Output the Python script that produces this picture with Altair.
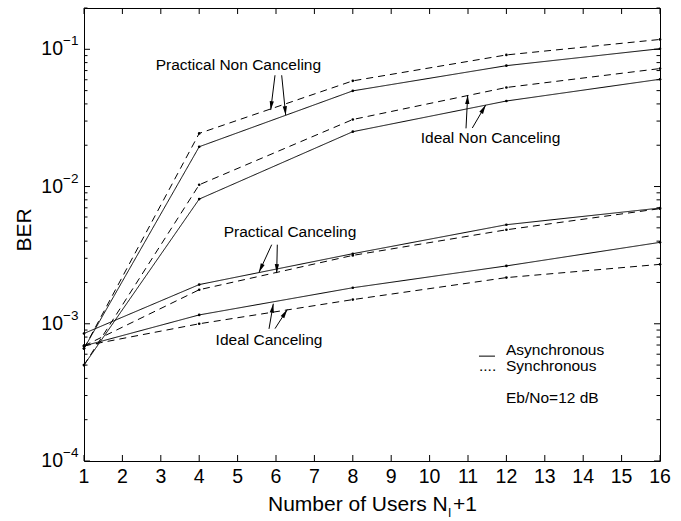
import math
import altair as alt
import pandas as pd

# ---------------- data ----------------
x_users = [1, 4, 8, 12, 16]
pnc_async = [0.00066, 0.0195, 0.0498, 0.076, 0.101]
pnc_sync = [0.00066, 0.0244, 0.0589, 0.091, 0.118]
inc_async = [0.0005, 0.0081, 0.0251, 0.042, 0.0605]
inc_sync = [0.0005, 0.0103, 0.0308, 0.0527, 0.0724]
pc_async = [0.00085, 0.00193, 0.00324, 0.00527, 0.00697]
pc_sync = [0.00069, 0.00177, 0.00315, 0.00484, 0.0069]
ic_async = [0.00069, 0.00116, 0.00183, 0.00264, 0.00392]
ic_sync = [0.00069, 0.0010, 0.0015, 0.00217, 0.00271]

x_ticks = list(range(1, 17))
x_tick_labels = [str(v) for v in x_ticks]
y_major = [1e-4, 1e-3, 1e-2, 1e-1]
y_major_exp = ["\u22124", "\u22123", "\u22122", "\u22121"]
y_minor = [k * 10.0 ** e for e in range(-4, 0) for k in range(2, 10) if k * 10.0 ** e <= 0.2]

ann_text = ["Practical Non Canceling", "Ideal Non Canceling", "Practical Canceling", "Ideal Canceling"]
ann_x = [5.02, 11.586, 6.365, 5.818]
ann_y = [0.0765, 0.02254, 0.0047, 0.000767]

arrow_x0 = [5.974, 6.148, 10.948, 11.112, 5.888, 6.034, 5.818, 5.974]
arrow_y0 = [0.0647, 0.0647, 0.02655, 0.0267, 0.00377, 0.00377, 0.000918, 0.000922]
arrow_x1 = [5.862, 6.253, 10.992, 11.461, 5.557, 6.018, 5.930, 6.294]
arrow_y1 = [0.0361, 0.0331, 0.0464, 0.0392, 0.00237, 0.00234, 0.0014, 0.00127]

legend_labels = ["Asynchronous", "Synchronous"]
legend_x = 11.99
legend_y = [0.000641, 0.000491]
legend_sample_x = [11.286, 11.703]
legend_sample_y = 0.000581
note_text = "Eb/No=12 dB"
note_y = 0.000286

# ---------------- layout ----------------
W, H = 576, 453
FONT = "Liberation Sans"
X_DOM = [1, 16]
Y_DOM = [1e-4, 0.2]
xs = alt.Scale(domain=X_DOM, nice=False, zero=False)
ys = alt.Scale(type="log", domain=Y_DOM, nice=False)

rows = []
curves = [
    ("pnc", "Asynchronous", pnc_async), ("pnc", "Synchronous", pnc_sync),
    ("inc", "Asynchronous", inc_async), ("inc", "Synchronous", inc_sync),
    ("pc", "Asynchronous", pc_async), ("pc", "Synchronous", pc_sync),
    ("ic", "Asynchronous", ic_async), ("ic", "Synchronous", ic_sync),
]
for name, mode, vals in curves:
    for xv, yv in zip(x_users, vals):
        rows.append({"x": xv, "ber": yv, "curve": name + "_" + mode, "mode": mode})
df = pd.DataFrame(rows)


def XX(field="x:Q"):
    return alt.X(field, scale=xs, axis=None)


def YY(field="ber:Q"):
    return alt.Y(field, scale=ys, axis=None)


lines = alt.Chart(df).mark_line(color="black", strokeWidth=1).encode(
    x=XX(), y=YY(), detail="curve:N",
    strokeDash=alt.StrokeDash("mode:N", scale=alt.Scale(domain=["Asynchronous", "Synchronous"],
                                                          range=[[1, 0], [7, 5]]), legend=None),
)
pts = alt.Chart(df).mark_circle(color="black", size=7, opacity=1).encode(x=XX(), y=YY())

# ticks
xt = pd.DataFrame({"x": x_ticks, "lab": x_tick_labels})
ymaj = pd.DataFrame({"ber": y_major, "e": y_major_exp})
ymin = pd.DataFrame({"ber": y_minor})
tk = dict(color="black", strokeWidth=1)
xtick_b = alt.Chart(xt).mark_rule(**tk).encode(x=XX(), y=alt.value(H), y2=alt.value(H - 6))
xtick_t = alt.Chart(xt).mark_rule(**tk).encode(x=XX(), y=alt.value(0), y2=alt.value(6))
ytick_l = alt.Chart(ymaj).mark_rule(**tk).encode(y=YY(), x=alt.value(0), x2=alt.value(6))
ytick_r = alt.Chart(ymaj).mark_rule(**tk).encode(y=YY(), x=alt.value(W), x2=alt.value(W - 6))
ymin_l = alt.Chart(ymin).mark_rule(**tk).encode(y=YY(), x=alt.value(0), x2=alt.value(3.5))
ymin_r = alt.Chart(ymin).mark_rule(**tk).encode(y=YY(), x=alt.value(W), x2=alt.value(W - 3.5))

xlab = alt.Chart(xt).mark_text(font=FONT, fontSize=19.5, align="center", baseline="middle", color="black").encode(
    x=XX(), y=alt.value(H + 16), text="lab:N")
ylab = alt.Chart(ymaj).mark_text(font=FONT, fontSize=19.5, align="right", baseline="middle", color="black").encode(
    y=YY(), x=alt.value(-21), text=alt.value("10"))
yexp = alt.Chart(ymaj).mark_text(font=FONT, fontSize=13.5, align="left", baseline="middle", color="black", dy=-8).encode(
    y=YY(), x=alt.value(-21), text="e:N")

ber_title = alt.Chart(pd.DataFrame({"t": ["BER"]})).mark_text(
    font=FONT, fontSize=21, angle=270, align="center", baseline="middle", color="black").encode(
    x=alt.value(-59), y=alt.value(222), text="t:N")

xt1 = alt.Chart(pd.DataFrame({"t": ["Number of Users N"]})).mark_text(
    font=FONT, fontSize=21, align="left", baseline="middle", color="black").encode(
    x=alt.value(184), y=alt.value(497), text="t:N")
xt2 = alt.Chart(pd.DataFrame({"t": ["I"]})).mark_text(
    font=FONT, fontSize=12, align="left", baseline="middle", color="black").encode(
    x=alt.value(364), y=alt.value(505), text="t:N")
xt3 = alt.Chart(pd.DataFrame({"t": ["+1"]})).mark_text(
    font=FONT, fontSize=21, align="left", baseline="middle", color="black").encode(
    x=alt.value(369), y=alt.value(497), text="t:N")

# annotations
adf = pd.DataFrame({"x": ann_x, "ber": ann_y, "t": ann_text})
ann = alt.Chart(adf).mark_text(font=FONT, fontSize=15.5, align="center", baseline="middle", color="black").encode(
    x=XX(), y=YY(), text="t:N")

L = math.log10(Y_DOM[1]) - math.log10(Y_DOM[0])
arows, hrows = [], []
for i, (a, b, c, d) in enumerate(zip(arrow_x0, arrow_y0, arrow_x1, arrow_y1)):
    arows.append({"x": a, "ber": b, "id": i, "o": 0})
    arows.append({"x": c, "ber": d, "id": i, "o": 1})
    dxp = (c - a) * W / (X_DOM[1] - X_DOM[0])
    dyp = -(math.log10(d) - math.log10(b)) * H / L
    ang = math.degrees(math.atan2(dxp, -dyp)) % 360
    hrows.append({"x": c, "ber": d, "ang": ang})
shafts = alt.Chart(pd.DataFrame(arows)).mark_line(color="black", strokeWidth=1).encode(
    x=XX(), y=YY(), detail="id:N", order="o:Q")
heads = alt.Chart(pd.DataFrame(hrows)).mark_point(
    shape="M0,0L0.38,1.6L-0.38,1.6Z", filled=True, color="black", opacity=1, size=125, strokeWidth=0).encode(
    x=XX(), y=YY(), angle=alt.Angle("ang:Q", scale=None))

# legend
ldf = pd.DataFrame({"x": [legend_x] * 2, "ber": legend_y, "t": legend_labels})
leg_text = alt.Chart(ldf).mark_text(font=FONT, fontSize=15.5, align="left", baseline="middle", color="black").encode(
    x=XX(), y=YY(), text="t:N")
lsdf = pd.DataFrame({"x": legend_sample_x, "ber": [legend_sample_y] * 2})
leg_line = alt.Chart(lsdf).mark_line(color="black", strokeWidth=1).encode(x=XX(), y=YY())
ddf = pd.DataFrame({"x": [legend_sample_x[0]], "ber": [legend_y[1]], "t": ["...."]})
leg_dots = alt.Chart(ddf).mark_text(font=FONT, fontSize=15.5, align="left", baseline="middle", color="black").encode(
    x=XX(), y=YY(), text="t:N")
ndf = pd.DataFrame({"x": [legend_x], "ber": [note_y], "t": [note_text]})
note = alt.Chart(ndf).mark_text(font=FONT, fontSize=15.5, align="left", baseline="middle", color="black").encode(
    x=XX(), y=YY(), text="t:N")

chart = alt.layer(
    lines, pts, xtick_b, xtick_t, ytick_l, ytick_r, ymin_l, ymin_r, xlab, ylab, yexp, ber_title,
    xt1, xt2, xt3, ann, shafts, heads, leg_text, leg_line, leg_dots, note,
).properties(
    width=W, height=H,
    autosize=alt.AutoSizeParams(type="none"),
    padding={"left": 84, "top": 8, "right": 21, "bottom": 60},
    background="white",
).configure_view(stroke="black", strokeWidth=1)

chart.save("out.html", embed_options={"renderer": "svg", "actions": False})
